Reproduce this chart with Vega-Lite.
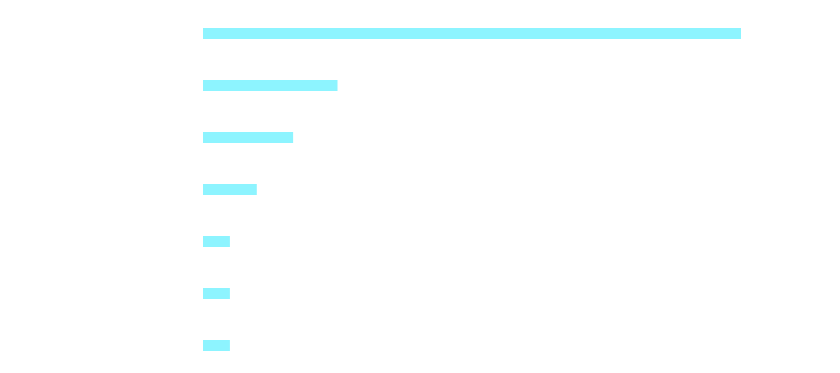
{
  "$schema": "https://vega.github.io/schema/vega-lite/v6.json",
  "width": 538,
  "height": 364,
  "autosize": {"type": "none"},
  "padding": {"left": 203, "top": 7.5, "right": 99, "bottom": 1.5},
  "background": "white",
  "config": {"view": {"stroke": null}},
  "data": {
    "values": [
      {"category": "A", "value": 20},
      {"category": "B", "value": 5},
      {"category": "C", "value": 3.35},
      {"category": "D", "value": 2},
      {"category": "E", "value": 1},
      {"category": "F", "value": 1},
      {"category": "G", "value": 1}
    ]
  },
  "mark": {"type": "bar", "color": "#8df4ff"},
  "encoding": {
    "y": {
      "field": "category",
      "type": "nominal",
      "sort": null,
      "axis": null,
      "scale": {"paddingInner": 0.7885, "paddingOuter": 0.394}
    },
    "x": {
      "field": "value",
      "type": "quantitative",
      "axis": null,
      "scale": {"domain": [0, 20], "nice": false}
    }
  }
}
